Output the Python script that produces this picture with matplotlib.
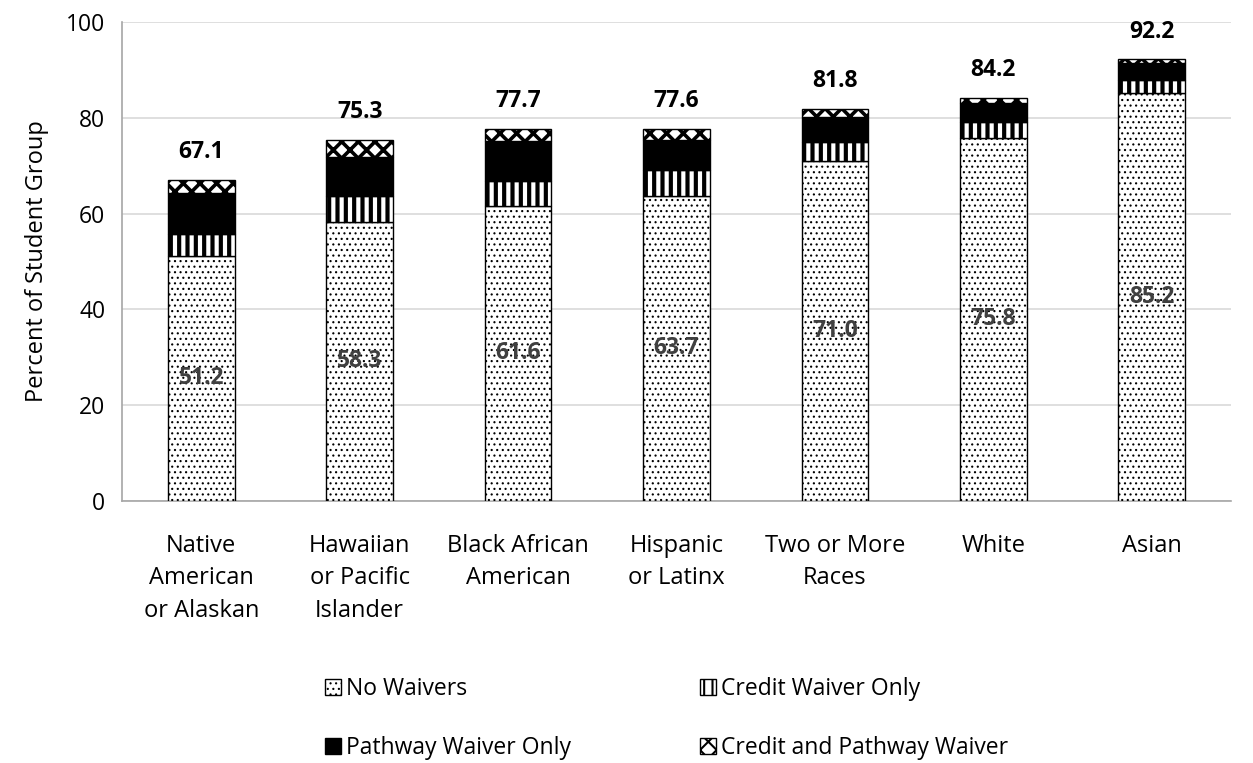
import matplotlib.pyplot as plt
import numpy as np

plt.rcParams['font.family'] = ['Open Sans', 'DejaVu Sans']

groups = ['Native\nAmerican\nor Alaskan', 'Hawaiian\nor Pacific\nIslander', 'Black African\nAmerican',
          'Hispanic\nor Latinx', 'Two or More\nRaces', 'White', 'Asian']
no_waivers = [51.2, 58.3, 61.6, 63.7, 71.0, 75.8, 85.2]
credit_only = [4.5, 5.4, 5.1, 5.4, 4.0, 3.4, 2.7]
pathway_only = [8.7, 8.1, 8.5, 6.3, 5.2, 3.8, 3.5]
credit_pathway = [2.7, 3.5, 2.5, 2.2, 1.6, 1.2, 0.8]
totals = [67.1, 75.3, 77.7, 77.6, 81.8, 84.2, 92.2]

series = [
    ('No Waivers', no_waivers, 'white', '...', 0.8),
    ('Credit Waiver Only', credit_only, 'white', '||', 3.0),
    ('Pathway Waiver Only', pathway_only, 'black', '', 1.0),
    ('Credit and Pathway Waiver', credit_pathway, 'white', 'xx', 2.6),
]

fig = plt.figure(figsize=(12.53, 7.63), dpi=100)
ax = fig.add_axes([0.0974, 0.3434, 0.885, 0.6278])

x = np.arange(len(groups))
bottom = np.zeros(len(groups))
handles = {}
for name, vals, fc, hatch, hlw in series:
    bars = ax.bar(x, vals, 0.42, bottom=bottom, color=fc, edgecolor='black',
                  hatch=hatch, linewidth=1.0, label=name, zorder=3)
    for b in bars:
        if hasattr(b, 'set_hatch_linewidth'):
            b.set_hatch_linewidth(hlw)
    handles[name] = bars
    bottom += np.array(vals)

# labels inside no waiver segment
for i, v in enumerate(no_waivers):
    ax.text(x[i], v / 2, f'{v:.1f}', ha='center', va='center', fontsize=16.5,
            fontweight='bold', color='#404040', zorder=4)

for i, t in enumerate(totals):
    ax.text(x[i], t + 3.3, f'{t:.1f}', ha='center', va='bottom', fontsize=16.5,
            fontweight='bold', color='black')

ax.set_ylim(0, 100)
ax.set_xlim(-0.5, len(groups) - 0.5)
ax.set_yticks(range(0, 101, 20))
ax.set_xticks(x)
ax.set_xticklabels(groups, fontsize=17, linespacing=1.45)
ax.tick_params(axis='y', labelsize=16.5, length=0, pad=12)
ax.tick_params(axis='x', length=0, pad=24)
ax.set_ylabel('Percent of Student Group', fontsize=17, labelpad=12)
ax.yaxis.grid(True, color='#d9d9d9', linewidth=1.2, zorder=0)
ax.set_axisbelow(True)
for s in ['top', 'right']:
    ax.spines[s].set_visible(False)
for s in ['left', 'bottom']:
    ax.spines[s].set_color('#a6a6a6')
    ax.spines[s].set_linewidth(1.2)

# column-wise fill -> row order NW, Credit / Pathway, C&P
order = ['No Waivers', 'Pathway Waiver Only', 'Credit Waiver Only', 'Credit and Pathway Waiver']
leg = fig.legend([handles[k] for k in order], order, loc='center', bbox_to_anchor=(0.532, 0.0585),
                 ncol=2, frameon=False, fontsize=16.5, handlelength=0.7, handleheight=0.7,
                 handletextpad=0.25, columnspacing=5.6, labelspacing=1.55)
for p, k in zip(leg.get_patches(), order):
    if hasattr(p, 'set_hatch_linewidth'):
        p.set_hatch_linewidth(1.5 if k != 'No Waivers' else 0.8)

fig.savefig('out.png', dpi=100)
